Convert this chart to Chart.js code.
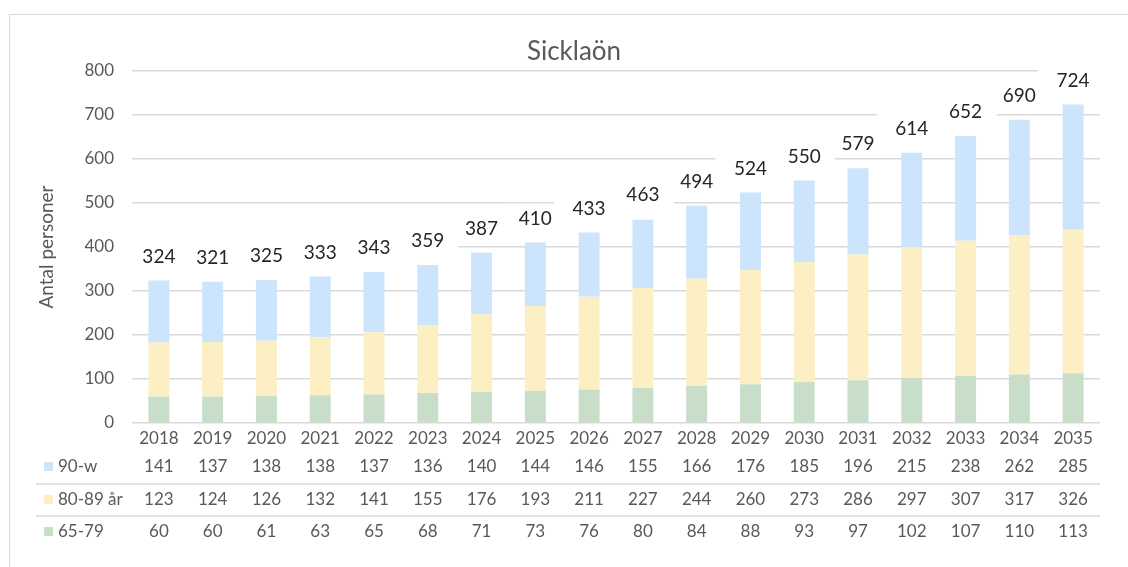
<!DOCTYPE html>
<html>
<head>
<meta charset="utf-8">
<script src="https://cdn.jsdelivr.net/npm/chart.js@4/dist/chart.umd.min.js"></script>
<style>
  body { margin: 0; background: #fff; }
</style>
</head>
<body>
<canvas id="chart" width="1128" height="567"></canvas>
<script>
const years = ["2018", "2019", "2020", "2021", "2022", "2023", "2024", "2025", "2026",
  "2027", "2028", "2029", "2030", "2031", "2032", "2033", "2034", "2035"];
const age6579 = [60, 60, 61, 63, 65, 68, 71, 73, 76, 80, 84, 88, 93, 97, 102, 107, 110, 113];
const age8089 = [123, 124, 126, 132, 141, 155, 176, 193, 211, 227, 244, 260, 273, 286, 297, 307, 317, 326];
const age90w = [141, 137, 138, 138, 137, 136, 140, 144, 146, 155, 166, 176, 185, 196, 215, 238, 262, 285];
// totals as printed above the bars (rounded from the source data)
const totals = [324, 321, 325, 333, 343, 359, 387, 410, 433, 463, 494, 524, 550, 579, 614, 652, 690, 724];
const yTicks = [0, 100, 200, 300, 400, 500, 600, 700, 800];

const FONT = "Lato, 'Open Sans', sans-serif";
const GREY = "#595959";

// totals above bars + data table underneath
const extras = {
  id: "extras",
  beforeDraw(chart) {
    const ctx = chart.ctx;
    ctx.save();
    ctx.strokeStyle = "#d9d9d9";
    ctx.lineWidth = 1;
    ctx.strokeRect(9.5, 14.5, 1300, 700);
    ctx.fillStyle = GREY;
    ctx.font = "26px " + FONT;
    ctx.textAlign = "center";
    ctx.textBaseline = "middle";
    ctx.fillText("Sicklaön", 574, 52);
    ctx.restore();
  },
  afterDatasetsDraw(chart) {
    const ctx = chart.ctx;
    const x = chart.scales.x;
    const y = chart.scales.y;
    ctx.save();
    // label boxes hide the gridlines, like the original
    ctx.fillStyle = "#fff";
    totals.forEach((t, i) => {
      const cx = x.getPixelForValue(i);
      const cy = y.getPixelForValue(t) - 25;
      ctx.fillRect(cx - 35, cy - 14, 66, 28);
    });
    ctx.fillStyle = "#262626";
    ctx.font = "19px " + FONT;
    ctx.textAlign = "center";
    ctx.textBaseline = "middle";
    totals.forEach((t, i) => {
      ctx.fillText(String(t), x.getPixelForValue(i), y.getPixelForValue(t) - 24);
    });

    // data table
    const rows = [
      { label: "90-w", color: "#cce4fc", data: age90w, y: 467 },
      { label: "80-89 år", color: "#fdefc4", data: age8089, y: 500 },
      { label: "65-79", color: "#c8dec8", data: age6579, y: 532 }
    ];
    ctx.strokeStyle = "#d9d9d9";
    ctx.lineWidth = 1.5;
    [484, 516].forEach(ly => {
      ctx.beginPath();
      ctx.moveTo(36, ly);
      ctx.lineTo(x.right, ly);
      ctx.stroke();
    });
    ctx.font = "17px " + FONT;
    rows.forEach(r => {
      ctx.fillStyle = r.color;
      ctx.fillRect(44, r.y - 5, 9, 9);
      ctx.fillStyle = GREY;
      ctx.textAlign = "left";
      ctx.fillText(r.label, 58, r.y);
      ctx.textAlign = "center";
      r.data.forEach((v, i) => ctx.fillText(String(v), x.getPixelForValue(i), r.y));
    });
    ctx.restore();
  }
};

new Chart(document.getElementById("chart"), {
  type: "bar",
  data: {
    labels: years,
    datasets: [
      { label: "65-79", data: age6579, backgroundColor: "#c8dec8" },
      { label: "80-89 år", data: age8089, backgroundColor: "#fdefc4" },
      { label: "90-w", data: age90w, backgroundColor: "#cce4fc" }
    ]
  },
  options: {
    responsive: false,
    animation: false,
    layout: { padding: { top: 71, right: 28, left: 0, bottom: 0 } },
    datasets: { bar: { barPercentage: 0.39, categoryPercentage: 1 } },
    plugins: { legend: { display: false }, tooltip: { enabled: false } },
    scales: {
      x: {
        stacked: true,
        grid: { display: false },
        border: { display: false },
        ticks: { color: GREY, font: { family: FONT, size: 17 }, padding: -3, maxRotation: 0 },
        afterFit(scale) { scale.height = 144; }
      },
      y: {
        stacked: true,
        min: 0,
        max: 800,
        afterBuildTicks(scale) { scale.ticks = yTicks.map(v => ({ value: v })); },
        grid: { color: "#d9d9d9", lineWidth: 1.5, drawTicks: false },
        border: { display: false },
        ticks: { color: GREY, font: { family: FONT, size: 17 }, padding: 18 },
        title: {
          display: true,
          text: "Antal personer",
          color: GREY,
          font: { family: FONT, size: 19 },
          padding: { top: 35, bottom: 0 }
        },
        afterFit(scale) { scale.width = 132; }
      }
    }
  },
  plugins: [extras]
});
</script>
</body>
</html>
